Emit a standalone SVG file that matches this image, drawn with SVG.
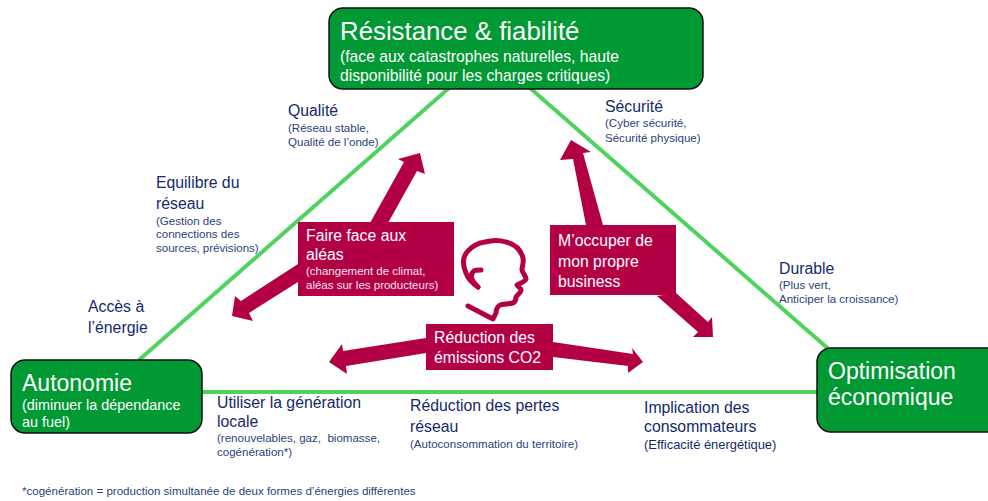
<svg xmlns="http://www.w3.org/2000/svg" width="988" height="501" viewBox="0 0 988 501">
<style>
text{font-family:"Liberation Sans",Arial,sans-serif}
.node{fill:#009933;stroke:#111;stroke-width:1.5}
.edge{stroke:#4fd35f;stroke-width:4;fill:none}
.box,.arrow{fill:#b30045}
.w{fill:#fff}
.n{fill:#14296b}
.t{font-size:15.8px}
.s{font-size:11.55px;fill:#2a3f7a}
.m{font-size:15.8px;fill:#fff}
.ms{font-size:11.5px;fill:#f3e3ea}
</style>
<rect width="988" height="501" fill="#fff"/>
<g id="connectors">
<path class="edge" d="M449 88L139 360"/>
<path class="edge" d="M530 88L832 352"/>
<path class="edge" d="M202 392L818 392"/>
</g>
<g id="arrows">
<path class="arrow" d="M370 223L404 162L398 159L420 153L425 174L417 171L388 223Z"/>
<path class="arrow" d="M298 264L298 282L249 313L253 321L232 316L235 296L241 301Z"/>
<path class="arrow" d="M586 225L573 159L560 160L571 140L591 152L583 153L603 225Z"/>
<path class="arrow" d="M657 296L676 293L708 322L712 317L713 337L693 337L698 332Z"/>
<path class="arrow" d="M426 338L343 351L342 344L329 362L347 374L346 366L426 353Z"/>
<path class="arrow" d="M553 342L633 354L632 348L643 362L628 373L628 366L553 357Z"/>
</g>
<g id="head" fill="none" stroke="#b30045" stroke-width="5" stroke-linecap="round" stroke-linejoin="round">
<path d="M478 287C472 283 468 279 466 273C463 266 462 258 467 252C472 246 478 243 485 242C492 240 500 240 506 242C515 244 521 250 523 258C524 263 522 266 522 270C523 274 526 276 526 279C525 282 520 283 517 285C518 287 521 288 521 290C521 293 517 295 516 297C516 300 515 302 513 303C508 304 503 304 500 305C497 307 496 310 496 313C495 315 494 317 493 319L468 306"/>
<path d="M481 270C477 270 474 270 473 272C471 274 471 277 472 279C473 282 476 285 478 287"/>
</g>
<g id="n-resistance">
<rect class="node" x="329" y="8" width="374" height="81" rx="14"/>
<text class="w" x="340" y="40" font-size="25.8">Résistance &amp; fiabilité</text>
<text class="w" x="340" y="62" font-size="15.7">(face aux catastrophes naturelles, haute</text>
<text class="w" x="340" y="81" font-size="15.7">disponibilité pour les charges critiques)</text>
</g>
<g id="n-autonomie">
<rect class="node" x="11" y="360" width="191" height="73" rx="14"/>
<text class="w" x="22" y="391" font-size="23">Autonomie</text>
<text class="w" x="22" y="410" font-size="14.4">(diminuer la dépendance</text>
<text class="w" x="22" y="427" font-size="14.4">au fuel)</text>
</g>
<g id="n-optimisation">
<rect class="node" x="817" y="348" width="185" height="84" rx="14"/>
<text class="w" x="828" y="379" font-size="23">Optimisation</text>
<text class="w" x="828" y="405" font-size="23">économique</text>
</g>
<g id="n-faire-face">
<rect class="box" x="298" y="222" width="156" height="74"/>
<text class="m" x="306" y="241">Faire face aux</text>
<text class="m" x="306" y="260">aléas</text>
<text class="ms" x="306" y="275">(changement de climat,</text>
<text class="ms" x="306" y="289">aléas sur les producteurs)</text>
</g>
<g id="n-moccuper">
<rect class="box" x="550" y="225" width="126" height="70"/>
<text class="m" x="558" y="246">M’occuper de</text>
<text class="m" x="558" y="267">mon propre</text>
<text class="m" x="558" y="287">business</text>
</g>
<g id="n-reduction-co2">
<rect class="box" x="426" y="324" width="127" height="46"/>
<text class="m" x="434" y="343">Réduction des</text>
<text class="m" x="434" y="363">émissions CO2</text>
</g>
<g id="l-qualite">
<text class="n t" x="288" y="116">Qualité</text>
<text class="s" x="288" y="132">(Réseau stable,</text>
<text class="s" x="288" y="146">Qualité de l’onde)</text>
</g>
<g id="l-equilibre">
<text class="n t" x="156" y="188">Equilibre du</text>
<text class="n t" x="156" y="209">réseau</text>
<text class="s" x="156" y="225">(Gestion des</text>
<text class="s" x="156" y="238">connections des</text>
<text class="s" x="156" y="252">sources, prévisions)</text>
</g>
<g id="l-acces">
<text class="n t" x="88" y="312">Accès à</text>
<text class="n t" x="88" y="333">l’énergie</text>
</g>
<g id="l-securite">
<text class="n t" x="605" y="112">Sécurité</text>
<text class="s" x="605" y="127">(Cyber sécurité,</text>
<text class="s" x="605" y="142">Sécurité physique)</text>
</g>
<g id="l-durable">
<text class="n t" x="779" y="274">Durable</text>
<text class="s" x="779" y="289">(Plus vert,</text>
<text class="s" x="779" y="303">Anticiper la croissance)</text>
</g>
<g id="l-utiliser">
<text class="n t" x="217" y="408">Utiliser la génération</text>
<text class="n t" x="217" y="427">locale</text>
<text class="s" x="217" y="442" xml:space="preserve">(renouvelables, gaz,  biomasse,</text>
<text class="s" x="217" y="456">cogénération*)</text>
</g>
<g id="l-pertes">
<text class="n t" x="410" y="411">Réduction des pertes</text>
<text class="n t" x="410" y="432">réseau</text>
<text class="s" x="410" y="448">(Autoconsommation du territoire)</text>
</g>
<g id="l-implication">
<text class="n t" x="644" y="413">Implication des</text>
<text class="n t" x="644" y="432">consommateurs</text>
<text class="n" x="644" y="449" font-size="12.9">(Efficacité énergétique)</text>
</g>
<text class="s" x="22" y="495">*cogénération = production simultanée de deux formes d’énergies différentes</text>
</svg>
